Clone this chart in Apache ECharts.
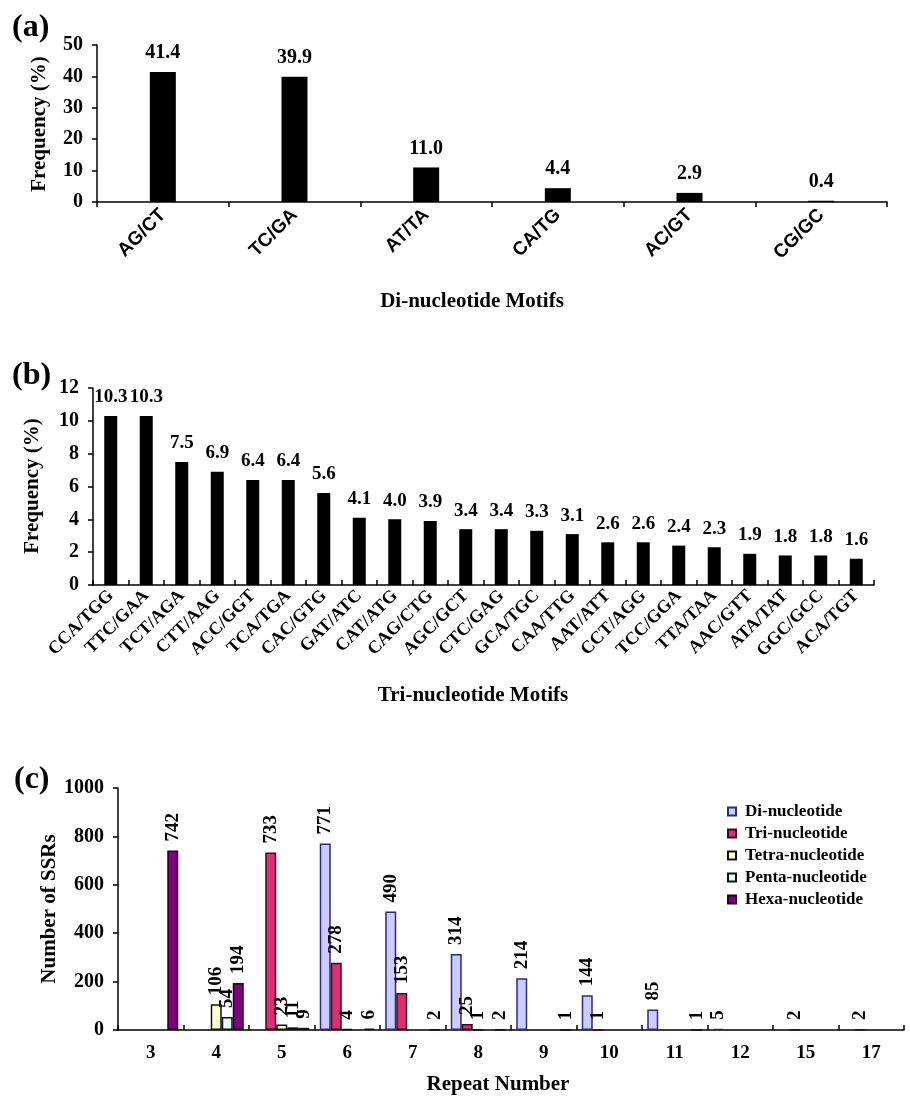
<!DOCTYPE html>
<html>
<head>
<meta charset="utf-8">
<script src="https://cdn.jsdelivr.net/npm/echarts@6/dist/echarts.min.js"></script>
<style>
html,body{margin:0;padding:0;background:#fff;}
#chart{width:910px;height:1098px;}
</style>
</head>
<body>
<div id="chart"></div>
<script>
const diCats = ['AG/CT','TC/GA','AT/TA','CA/TG','AC/GT','CG/GC'];
const diFreq = [41.4, 39.9, 11.0, 4.4, 2.9, 0.4];
const triCats = ['CCA/TGG','TTC/GAA','TCT/AGA','CTT/AAG','ACC/GGT','TCA/TGA','CAC/GTG','GAT/ATC','CAT/ATG','CAG/CTG','AGC/GCT','CTC/GAG','GCA/TGC','CAA/TTG','AAT/ATT','CCT/AGG','TCC/GGA','TTA/TAA','AAC/GTT','ATA/TAT','GGC/GCC','ACA/TGT'];
const triFreq = [10.3, 10.3, 7.5, 6.9, 6.4, 6.4, 5.6, 4.1, 4.0, 3.9, 3.4, 3.4, 3.3, 3.1, 2.6, 2.6, 2.4, 2.3, 1.9, 1.8, 1.8, 1.6];
const repeatNums = ['3','4','5','6','7','8','9','10','11','12','15','17'];
const diSSR    = [null, null, null, 771, 490, 314, 214, 144, 85, 5, null, null];
const triSSR   = [null, null, 733, 278, 153, 25, null, 1, null, null, 2, 2];
const tetraSSR = [null, 106, 23, 4, null, 1, null, null, null, null, null, null];
const pentaSSR = [null, 54, 11, null, null, null, null, null, null, null, null, null];
const hexaSSR  = [742, 194, 9, 6, 2, 2, 1, null, 1, null, null, null];
const seriesNames = ['Di-nucleotide','Tri-nucleotide','Tetra-nucleotide','Penta-nucleotide','Hexa-nucleotide'];

const SERIF = '"Liberation Serif","Times New Roman",serif';
const SANS = '"Liberation Sans",Arial,sans-serif';

const chart = echarts.init(document.getElementById('chart'));

const axisLine = {show:true, lineStyle:{color:'#000', width:1.5}};
function yAxis(gi, max, interval){
  return {
    type:'value', gridIndex:gi, min:0, max:max, interval:interval,
    axisLine:axisLine,
    axisTick:{show:true, length:5, inside:false, lineStyle:{color:'#000', width:1.5}},
    splitLine:{show:false},
    axisLabel:{color:'#000', fontFamily:SERIF, fontWeight:'bold', fontSize:20, margin:14,
      formatter: v => String(v)}
  };
}
function xAxis(gi, data, labelOpt, tickInside){
  return {
    type:'category', gridIndex:gi, data:data, boundaryGap:true,
    axisLine:axisLine,
    axisTick:{show:true, length:5, inside:tickInside, alignWithLabel:false, lineStyle:{color:'#000', width:1.5}},
    splitLine:{show:false},
    axisLabel:Object.assign({color:'#000', interval:0}, labelOpt)
  };
}

const cStyles = [
  {color:'#ccccff', borderColor:'#2a2a80'},
  {color:'#dd2f72', borderColor:'#3a0a20'},
  {color:'#ffffcc', borderColor:'#111111'},
  {color:'#e6ffff', borderColor:'#111111'},
  {color:'#800080', borderColor:'#250025'}
];
const cData = [diSSR, triSSR, tetraSSR, pentaSSR, hexaSSR];

const cSeries = cData.map((d, i) => ({
  name: seriesNames[i], type:'bar', xAxisIndex:2, yAxisIndex:2,
  data:d, barWidth:11, barGap:'0%',
  itemStyle:{color:cStyles[i].color, borderColor:cStyles[i].borderColor, borderWidth:1.5},
  label:{show:true, position:'top', rotate:90, align:'left', verticalAlign:'middle', distance:9,
    color:'#000', fontFamily:SERIF, fontWeight:'bold', fontSize:19,
    formatter: p => (p.value == null ? '' : String(p.value))}
}));

const option = {
  animation:false,
  backgroundColor:'#fff',
  grid:[
    {left:97, top:45, width:790, height:157},
    {left:93, top:388, width:781, height:197},
    {left:118, top:788, width:786, height:242}
  ],
  xAxis:[
    xAxis(0, diCats, {rotate:45, fontFamily:SANS, fontWeight:'bold', fontSize:19, margin:10}, false),
    xAxis(1, triCats, {rotate:45, fontFamily:SERIF, fontWeight:'bold', fontSize:18, margin:8}, true),
    xAxis(2, repeatNums, {fontFamily:SERIF, fontWeight:'bold', fontSize:19, margin:14}, true)
  ],
  yAxis:[ yAxis(0, 50, 10), yAxis(1, 12, 2), yAxis(2, 1000, 200) ],
  legend:{
    orient:'vertical', left:722, top:798, itemWidth:8, itemHeight:8, itemGap:5,
    icon:'rect', data:seriesNames,
    textStyle:{color:'#000', fontFamily:SERIF, fontWeight:'bold', fontSize:17, padding:[0,0,0,4]}
  },
  series:[
    {type:'bar', xAxisIndex:0, yAxisIndex:0, data:diFreq, barWidth:26,
     itemStyle:{color:'#000'},
     label:{show:true, position:'top', distance:9, color:'#000', fontFamily:SERIF, fontWeight:'bold', fontSize:20,
       formatter: p => p.value.toFixed(1)}},
    {type:'bar', xAxisIndex:1, yAxisIndex:1, data:triFreq, barWidth:13,
     itemStyle:{color:'#000'},
     label:{show:true, position:'top', distance:9, color:'#000', fontFamily:SERIF, fontWeight:'bold', fontSize:19,
       formatter: p => p.value.toFixed(1)}}
  ].concat(cSeries),
  graphic:[
    {type:'text', left:12, top:12, style:{text:'(a)', font:'bold 32px ' + SERIF, fill:'#000'}},
    {type:'text', left:12, top:360, style:{text:'(b)', font:'bold 32px ' + SERIF, fill:'#000'}},
    {type:'text', left:14, top:764, style:{text:'(c)', font:'bold 32px ' + SERIF, fill:'#000'}},
    {type:'text', x:40, y:124, rotation:Math.PI/2, style:{text:'Frequency (%)', font:'bold 21px ' + SERIF, fill:'#000', textAlign:'center', textVerticalAlign:'middle'}},
    {type:'text', x:33, y:486, rotation:Math.PI/2, style:{text:'Frequency (%)', font:'bold 21px ' + SERIF, fill:'#000', textAlign:'center', textVerticalAlign:'middle'}},
    {type:'text', x:50, y:909, rotation:Math.PI/2, style:{text:'Number of SSRs', font:'bold 21px ' + SERIF, fill:'#000', textAlign:'center', textVerticalAlign:'middle'}},
    {type:'text', x:472, y:302, style:{text:'Di-nucleotide Motifs', font:'bold 21px ' + SERIF, fill:'#000', textAlign:'center', textVerticalAlign:'middle'}},
    {type:'text', x:473, y:696, style:{text:'Tri-nucleotide Motifs', font:'bold 21px ' + SERIF, fill:'#000', textAlign:'center', textVerticalAlign:'middle'}},
    {type:'text', x:498, y:1085, style:{text:'Repeat Number', font:'bold 21px ' + SERIF, fill:'#000', textAlign:'center', textVerticalAlign:'middle'}}
  ]
};
chart.setOption(option);
</script>
</body>
</html>
